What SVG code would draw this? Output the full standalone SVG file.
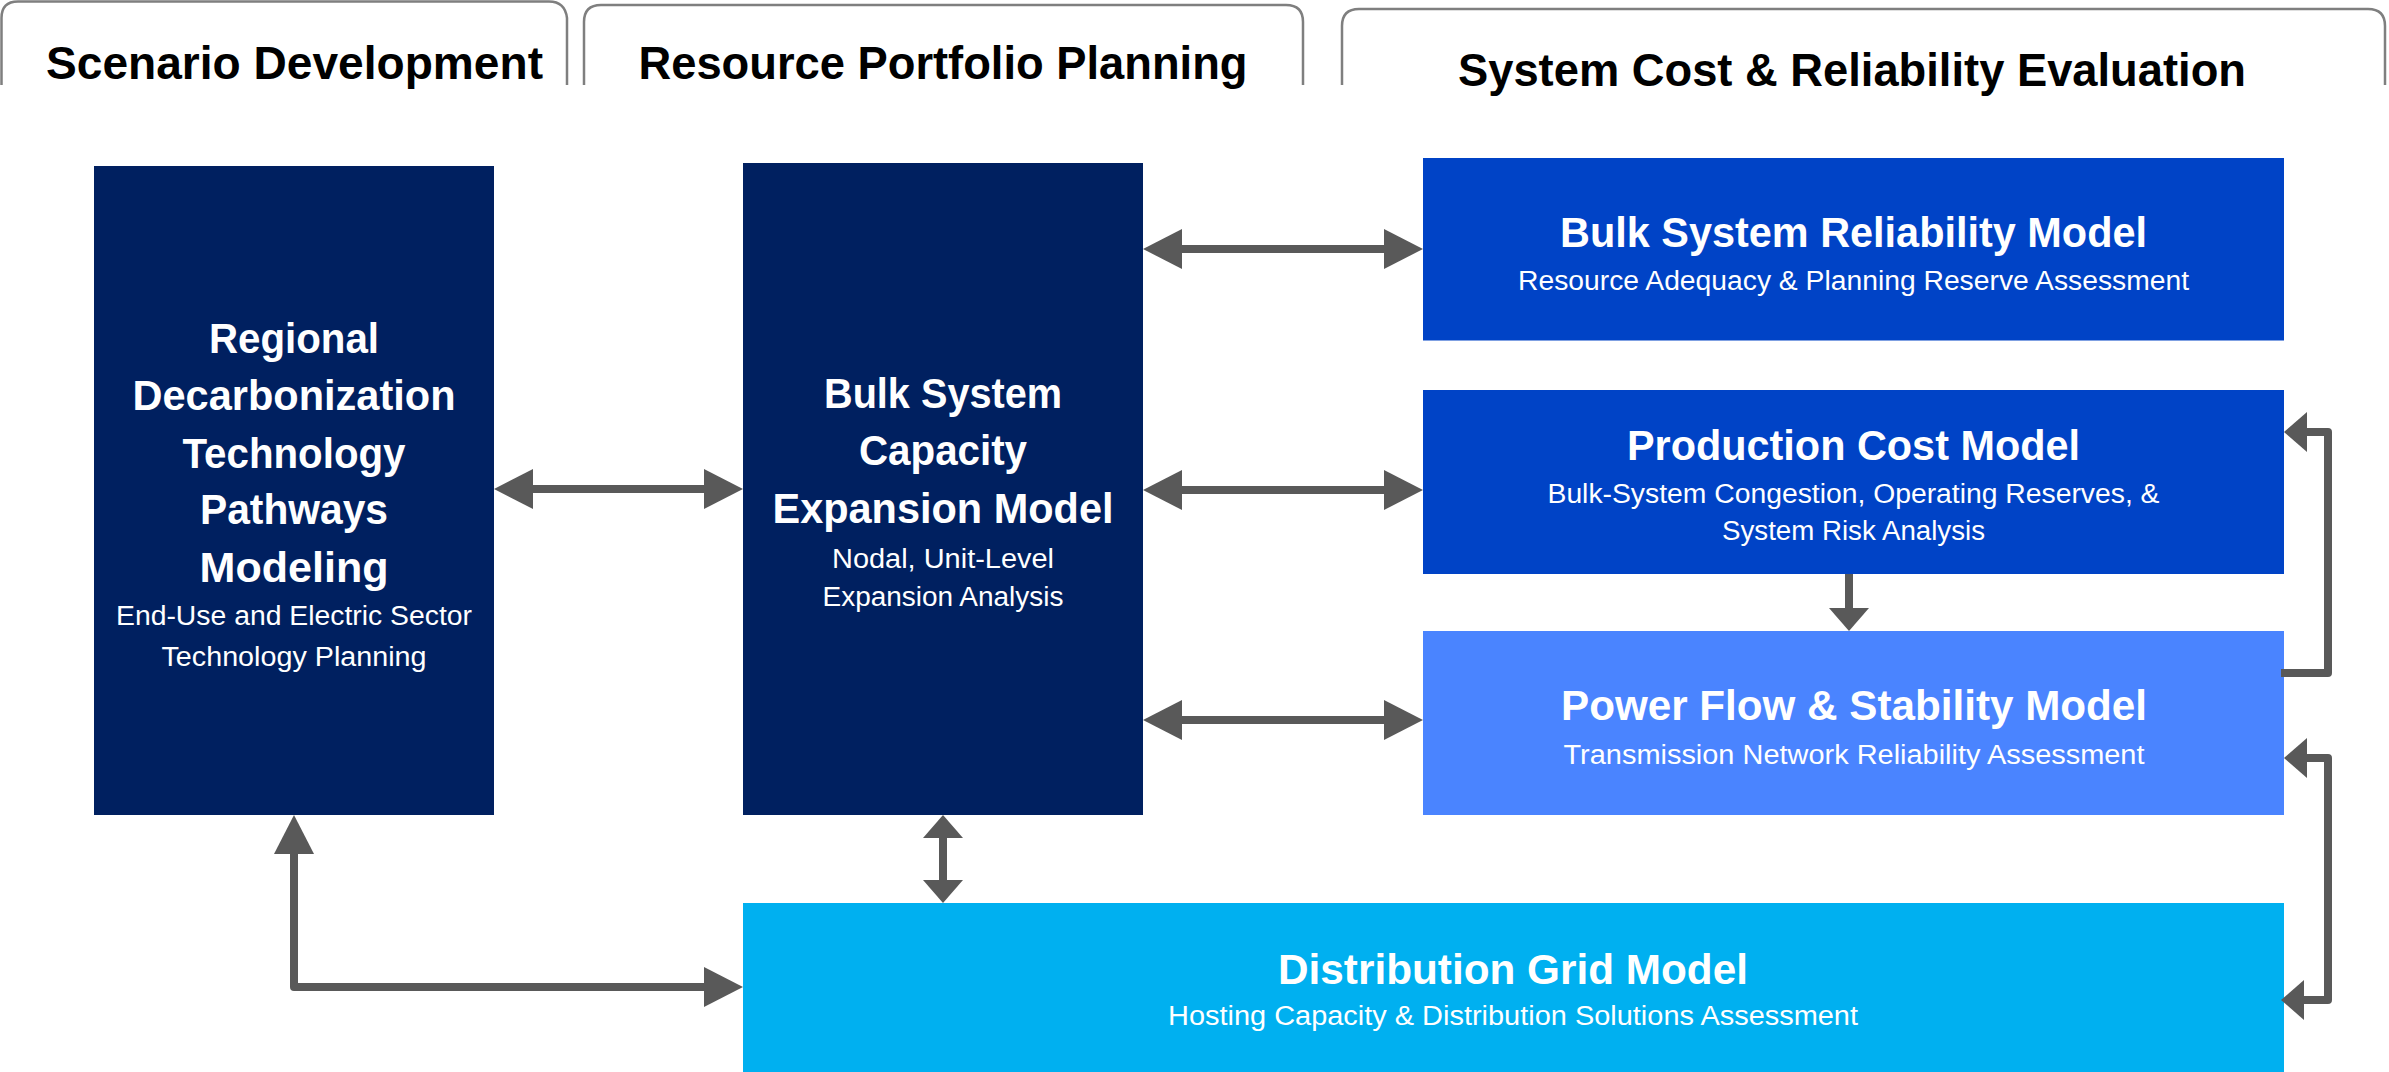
<svg xmlns="http://www.w3.org/2000/svg" width="2389" height="1072" viewBox="0 0 2389 1072">
<style>
  .tab { fill: none; stroke: #7f7f7f; stroke-width: 2.5; stroke-linejoin: round; }
  .hdr { font-family: "Liberation Sans", Arial, sans-serif; font-weight: bold; font-size: 47px; fill: #000000; text-anchor: middle; }
  .ttl { font-family: "Liberation Sans", Arial, sans-serif; font-weight: bold; font-size: 42px; fill: #ffffff; text-anchor: middle; }
  .sub { font-family: "Liberation Sans", Arial, sans-serif; font-size: 27px; fill: #ffffff; text-anchor: middle; }
  .navy { fill: #002060; }
  .mid { fill: #0043C6; }
  .light { fill: #4A84FF; }
  .dist { fill: #00B0F0; }
  .conn { fill: none; stroke: #595959; stroke-width: 8; stroke-linejoin: round; stroke-linecap: butt; }
  .big { marker-start: url(#headBig); marker-end: url(#headBig); }
</style>
<defs>
  <marker id="headBig" markerUnits="userSpaceOnUse" viewBox="0 -20 39 40" markerWidth="39" markerHeight="40" refX="0" refY="0" orient="auto-start-reverse" overflow="visible">
    <path d="M0,-20 L39,0 L0,20 Z" fill="#595959"/>
  </marker>
  <marker id="headSmall" markerUnits="userSpaceOnUse" viewBox="0 -20 23 40" markerWidth="23" markerHeight="40" refX="0" refY="0" orient="auto-start-reverse" overflow="visible">
    <path d="M0,-20 L23,0 L0,20 Z" fill="#595959"/>
  </marker>
</defs>
<rect width="2389" height="1072" fill="#ffffff"/>

<g id="header-scenario">
  <path class="tab" d="M1.5,85 L1.5,18 Q1.5,1.5 18,1.5 L549,1.5 Q565,1.5 567,18 L567,85"/>
  <text class="hdr" x="294.5" y="79" textLength="497" lengthAdjust="spacingAndGlyphs">Scenario Development</text>
</g>
<g id="header-portfolio">
  <path class="tab" d="M584,85 L584,22 Q584,5 601,5 L1286,5 Q1303,5 1303,22 L1303,85"/>
  <text class="hdr" x="943" y="79" textLength="609" lengthAdjust="spacingAndGlyphs">Resource Portfolio Planning</text>
</g>
<g id="header-evaluation">
  <path class="tab" d="M1342,85 L1342,26 Q1342,9 1359,9 L2368,9 Q2385,9 2385,26 L2385,85"/>
  <text class="hdr" x="1852" y="86" textLength="788" lengthAdjust="spacingAndGlyphs">System Cost &amp; Reliability Evaluation</text>
</g>

<g id="node-regional">
  <rect class="navy" x="94" y="166" width="400" height="649"/>
  <text class="ttl" x="294" y="353" textLength="170" lengthAdjust="spacingAndGlyphs">Regional</text>
  <text class="ttl" x="294" y="410" textLength="323" lengthAdjust="spacingAndGlyphs">Decarbonization</text>
  <text class="ttl" x="294" y="468" textLength="223" lengthAdjust="spacingAndGlyphs">Technology</text>
  <text class="ttl" x="294" y="524" textLength="188" lengthAdjust="spacingAndGlyphs">Pathways</text>
  <text class="ttl" x="294" y="582" textLength="189" lengthAdjust="spacingAndGlyphs">Modeling</text>
  <text class="sub" x="294" y="625" textLength="356" lengthAdjust="spacingAndGlyphs">End-Use and Electric Sector</text>
  <text class="sub" x="294" y="665.5" textLength="265" lengthAdjust="spacingAndGlyphs">Technology Planning</text>
</g>

<g id="node-capacity">
  <rect class="navy" x="743" y="163" width="400" height="652"/>
  <text class="ttl" x="943" y="408" textLength="238" lengthAdjust="spacingAndGlyphs">Bulk System</text>
  <text class="ttl" x="943" y="465" textLength="168" lengthAdjust="spacingAndGlyphs">Capacity</text>
  <text class="ttl" x="943" y="523" textLength="341" lengthAdjust="spacingAndGlyphs">Expansion Model</text>
  <text class="sub" x="943" y="567.5" textLength="222" lengthAdjust="spacingAndGlyphs">Nodal, Unit-Level</text>
  <text class="sub" x="943" y="605.5" textLength="241" lengthAdjust="spacingAndGlyphs">Expansion Analysis</text>
</g>

<g id="node-reliability">
  <rect class="mid" x="1423" y="158" width="861" height="182.5"/>
  <text class="ttl" x="1853.5" y="246.5" textLength="587" lengthAdjust="spacingAndGlyphs">Bulk System Reliability Model</text>
  <text class="sub" x="1853.5" y="290" textLength="671" lengthAdjust="spacingAndGlyphs">Resource Adequacy &amp; Planning Reserve Assessment</text>
</g>

<g id="node-production">
  <rect class="mid" x="1423" y="390" width="861" height="184"/>
  <text class="ttl" x="1853.5" y="459.5" textLength="453" lengthAdjust="spacingAndGlyphs">Production Cost Model</text>
  <text class="sub" x="1853.5" y="502.5" textLength="612" lengthAdjust="spacingAndGlyphs">Bulk-System Congestion, Operating Reserves, &amp;</text>
  <text class="sub" x="1853.5" y="540" textLength="263" lengthAdjust="spacingAndGlyphs">System Risk Analysis</text>
</g>

<g id="node-powerflow">
  <rect class="light" x="1423" y="631" width="861" height="184"/>
  <text class="ttl" x="1854" y="720" textLength="586" lengthAdjust="spacingAndGlyphs">Power Flow &amp; Stability Model</text>
  <text class="sub" x="1854" y="763.5" textLength="581" lengthAdjust="spacingAndGlyphs">Transmission Network Reliability Assessment</text>
</g>

<g id="node-distribution">
  <rect class="dist" x="743" y="903" width="1541" height="169"/>
  <text class="ttl" x="1513" y="983.5" textLength="470" lengthAdjust="spacingAndGlyphs">Distribution Grid Model</text>
  <text class="sub" x="1513" y="1025" textLength="690" lengthAdjust="spacingAndGlyphs">Hosting Capacity &amp; Distribution Solutions Assessment</text>
</g>

<g id="connectors">
  <path class="conn big" d="M533,489 L704,489"/>
  <path class="conn big" d="M1182,249 L1384,249"/>
  <path class="conn big" d="M1182,490 L1384,490"/>
  <path class="conn big" d="M1182,720 L1384,720"/>
  <path class="conn" d="M1849,574 L1849,608" marker-end="url(#headSmall)"/>
  <path class="conn" d="M943,838 L943,880" marker-start="url(#headSmall)" marker-end="url(#headSmall)"/>
  <path class="conn big" d="M294,854 L294,987 L704,987"/>
  <path class="conn" d="M2281,673 L2328,673 L2328,432 L2307,432" marker-end="url(#headSmall)"/>
  <path class="conn" d="M2307,758 L2328,758 L2328,1000 L2304,1000" marker-start="url(#headSmall)" marker-end="url(#headSmall)"/>
</g>
</svg>
